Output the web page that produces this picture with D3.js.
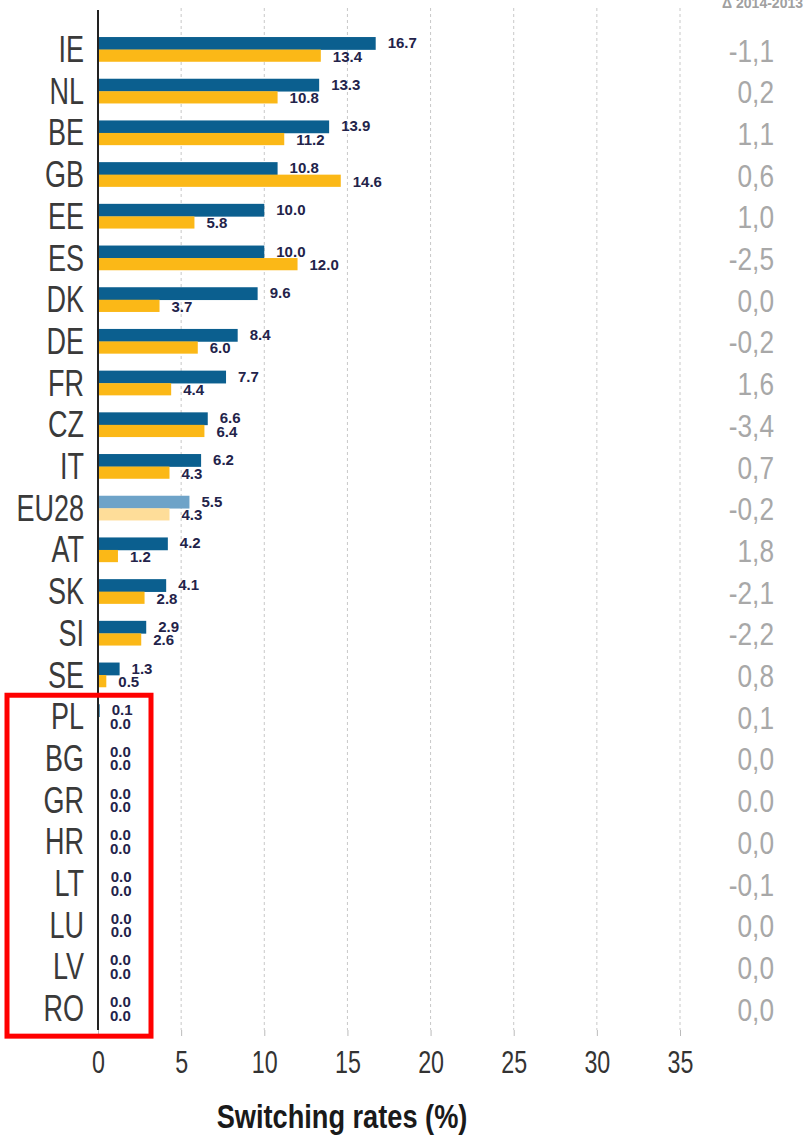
<!DOCTYPE html>
<html><head><meta charset="utf-8">
<script src="https://cdn.jsdelivr.net/npm/d3@7"></script>
<style>html,body{margin:0;padding:0;background:#fff;}svg{display:block;}</style>
</head><body>
<svg id="chart" width="807" height="1137"></svg>
<script>
const countries = ["IE","NL","BE","GB","EE","ES","DK","DE","FR","CZ","IT","EU28","AT","SK","SI","SE","PL","BG","GR","HR","LT","LU","LV","RO"];
const rates2014 = [16.7,13.3,13.9,10.8,10.0,10.0,9.6,8.4,7.7,6.6,6.2,5.5,4.2,4.1,2.9,1.3,0.1,0.0,0.0,0.0,0.04,0.04,0.0,0.0];
const rates2013 = [13.4,10.8,11.2,14.6,5.8,12.0,3.7,6.0,4.4,6.4,4.3,4.3,1.2,2.8,2.6,0.5,0.0,0.0,0.0,0.0,0.04,0.04,0.0,0.0];
const deltas = ["-1,1","0,2","1,1","0,6","1,0","-2,5","0,0","-0,2","1,6","-3,4","0,7","-0,2","1,8","-2,1","-2,2","0,8","0,1","0,0","0.0","0,0","-0,1","0,0","0,0","0,0"];
const xTicks = [0,5,10,15,20,25,30,35];
const deltaHeader = "Δ 2014-2013";
const axisTitle = "Switching rates (%)";
const highlighted = ["PL","RO"];

const svg = d3.select("#chart");
const x = d3.scaleLinear().domain([0,35]).range([98,680]);
const y = d3.scaleBand().domain(countries).range([28.7,1029.5]).paddingInner(0.4).paddingOuter(0.2);
const bw = y.bandwidth();
const half = bw/2;

const blue = "#0b5f8f", yellow = "#fbb817", blueL = "#6ea3c8", yellowL = "#fedd99";

// grid
svg.append("g").selectAll("line").data(xTicks.filter(t=>t>0)).join("line")
  .attr("x1",d=>x(d)).attr("x2",d=>x(d)).attr("y1",8).attr("y2",1030)
  .attr("stroke","#c8c8c8").attr("stroke-width",1).attr("stroke-dasharray","3,3");

const rows = countries.map((c,i)=>({c, a:rates2014[i], b:rates2013[i], d:deltas[i]}));

// bars
svg.append("g").selectAll("rect").data(rows).join("rect")
  .attr("x",x(0)).attr("y",d=>y(d.c)).attr("height",half+0.3)
  .attr("width",d=>x(d.a)-x(0)).attr("fill",d=>d.c==="EU28"?blueL:blue);
svg.append("g").selectAll("rect").data(rows).join("rect")
  .attr("x",x(0)).attr("y",d=>y(d.c)+half).attr("height",half-0.3)
  .attr("width",d=>x(d.b)-x(0)).attr("fill",d=>d.c==="EU28"?yellowL:yellow);

const fmt = d3.format(".1f");
const lab = svg.append("g").attr("font-family","Liberation Sans, Arial, sans-serif").attr("font-weight","bold").attr("font-size",15).attr("fill","#23234a");
lab.selectAll("text.a").data(rows).join("text").attr("class","a")
  .attr("x",d=>x(d.a)+12).attr("y",d=>y(d.c)+11).text(d=>fmt(d.a));
lab.selectAll("text.b").data(rows).join("text").attr("class","b")
  .attr("x",d=>x(d.b)+12).attr("y",d=>y(d.c)+24.5).text(d=>fmt(d.b));

// country labels
svg.append("g").selectAll("text").data(rows).join("text")
  .attr("transform",d=>`translate(84,${y(d.c)+half+12.5}) scale(0.75,1)`)
  .attr("text-anchor","end").attr("font-family","Liberation Sans, Arial, sans-serif")
  .attr("font-size",36).attr("fill","#3a3a3a").text(d=>d.c);

// deltas
svg.append("g").selectAll("text").data(rows).join("text")
  .attr("transform",d=>`translate(774,${y(d.c)+half+12}) scale(0.82,1)`)
  .attr("text-anchor","end").attr("font-family","Liberation Sans, Arial, sans-serif")
  .attr("font-size",32).attr("fill","#a8a8a8").text(d=>d.d);

svg.append("text").attr("x",803).attr("y",8).attr("text-anchor","end")
  .attr("font-family","Liberation Sans, Arial, sans-serif").attr("font-weight","bold")
  .attr("font-size",14).attr("fill","#a0a0a0").text(deltaHeader);

// x axis
const ax = svg.append("g").attr("transform","translate(0,1030)")
  .call(d3.axisBottom(x).tickValues(xTicks).tickSize(6).tickFormat(d3.format("d")));
ax.select(".domain").remove();
ax.selectAll(".tick line").attr("stroke","#bbb");
ax.selectAll(".tick text").attr("y",43).attr("dy",null).attr("transform","scale(0.75,1)")
  .attr("font-family","Liberation Sans, Arial, sans-serif").attr("font-size",31).attr("fill","#333");

// y axis line
svg.append("line").attr("x1",x(0)).attr("x2",x(0)).attr("y1",10).attr("y2",1030)
  .attr("stroke","#222").attr("stroke-width",2);

// title
svg.append("text").attr("transform","translate(342,1128) scale(0.8,1)").attr("text-anchor","middle")
  .attr("font-family","Liberation Sans, Arial, sans-serif").attr("font-weight","bold")
  .attr("font-size",34).attr("fill","#1a1a1a").text(axisTitle);

// highlight box
const y0 = y(highlighted[0]), y1 = y(highlighted[1])+bw;
svg.append("rect").attr("x",7).attr("y",y0-9).attr("width",144).attr("height",(y1+15)-(y0-9))
  .attr("fill","none").attr("stroke","#ff0000").attr("stroke-width",5);
</script>
</body></html>
